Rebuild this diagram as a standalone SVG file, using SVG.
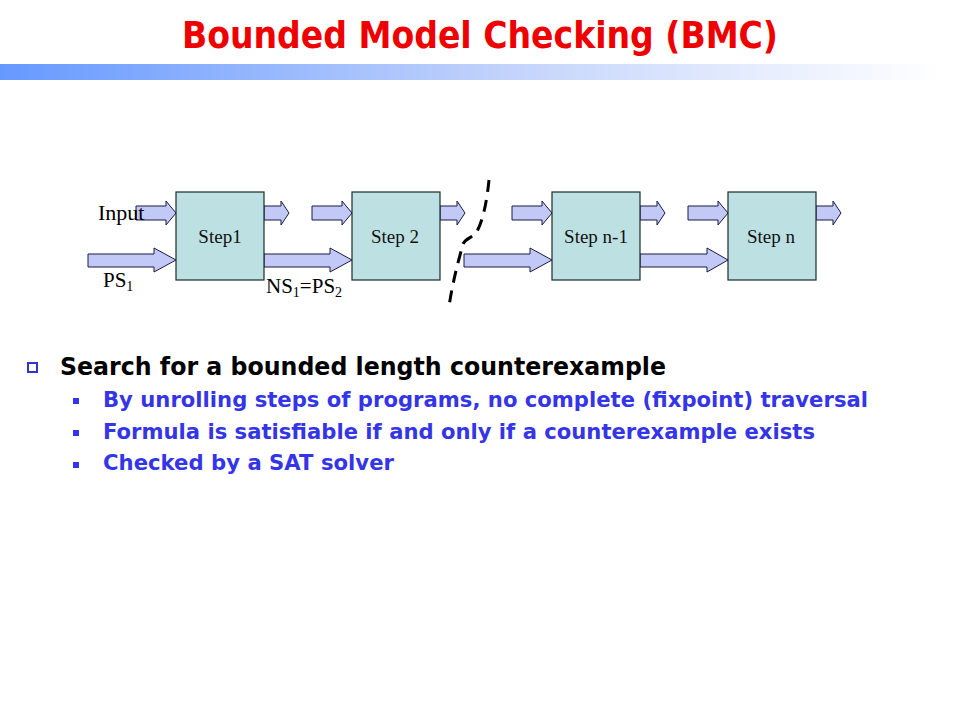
<svg xmlns="http://www.w3.org/2000/svg" width="960" height="720" viewBox="0 0 960 720">
<defs>
<linearGradient id="bar" x1="0" y1="0" x2="1" y2="0">
<stop offset="0" stop-color="#6699ff"/>
<stop offset="0.55" stop-color="#c4d4fb"/>
<stop offset="1" stop-color="#ffffff"/>
</linearGradient>
<style>
.arr{fill:#c3c9f7;stroke:#1a1a40;stroke-width:1}
.box{fill:#bde0e2;stroke:#1a2a2a;stroke-width:1.2}
.lbl{font-family:"Liberation Serif","Times New Roman",serif;fill:#000}
.step{font-family:"Liberation Serif","Times New Roman",serif;font-size:19px;fill:#111;text-anchor:middle}
.sub{font-family:"DejaVu Sans",Verdana,sans-serif;font-weight:bold;font-size:21.5px;fill:#3535e8}
</style>
</defs>
<rect width="960" height="720" fill="#ffffff"/>
<g id="title">
<text x="480" y="48" text-anchor="middle" font-family="DejaVu Sans Condensed, DejaVu Sans, sans-serif" font-weight="bold" font-size="38" fill="#ee0000" textLength="596" lengthAdjust="spacingAndGlyphs">Bounded Model Checking (BMC)</text>
<rect x="0" y="64" width="940" height="16" fill="url(#bar)"/>
</g>
<g id="connectors">
<polygon class="arr" points="136,206 166,206 166,201 176,213 166,225 166,220 136,220"/>
<polygon class="arr" points="264,206 281,206 281,201 289,213 281,225 281,220 264,220"/>
<polygon class="arr" points="312,206 342,206 342,201 352,213 342,225 342,220 312,220"/>
<polygon class="arr" points="440,206 457,206 457,201 465,213 457,225 457,220 440,220"/>
<polygon class="arr" points="512,206 542,206 542,201 552,213 542,225 542,220 512,220"/>
<polygon class="arr" points="640,206 657,206 657,201 665,213 657,225 657,220 640,220"/>
<polygon class="arr" points="688,206 718,206 718,201 728,213 718,225 718,220 688,220"/>
<polygon class="arr" points="816,206 833,206 833,201 841,213 833,225 833,220 816,220"/>
<polygon class="arr" points="88,254 154,254 154,248 176,260 154,272 154,267 88,267"/>
<polygon class="arr" points="264,254 330,254 330,248 352,260 330,272 330,267 264,267"/>
<polygon class="arr" points="464,254 530,254 530,248 552,260 530,272 530,267 464,267"/>
<polygon class="arr" points="640,254 707,254 707,248 728,260 707,272 707,267 640,267"/>
<path d="M489 180 C487 200 483 222 476 233 C472 238 466 238 463 244 C458 262 452 285 449 307" fill="none" stroke="#000" stroke-width="3" stroke-dasharray="12 8"/>
</g>
<g id="step1">
<rect class="box" x="176" y="192" width="88" height="88"/>
<text class="step" x="220" y="243">Step1</text>
</g>
<g id="step2">
<rect class="box" x="352" y="192" width="88" height="88"/>
<text class="step" x="395" y="243">Step 2</text>
</g>
<g id="stepn1">
<rect class="box" x="552" y="192" width="88" height="88"/>
<text class="step" x="596" y="243">Step n-1</text>
</g>
<g id="stepn">
<rect class="box" x="728" y="192" width="88" height="88"/>
<text class="step" x="771" y="243">Step n</text>
</g>
<g id="labels">
<text class="lbl" x="98" y="220" font-size="22">Input</text>
<text class="lbl" x="103" y="287" font-size="21">PS<tspan font-size="14" dy="4">1</tspan></text>
<text class="lbl" x="266" y="293" font-size="21">NS<tspan font-size="14" dy="4">1</tspan><tspan dy="-4">=PS</tspan><tspan font-size="14" dy="4">2</tspan></text>
</g>
<g id="bullets">
<rect x="28" y="363" width="9" height="9" fill="none" stroke="#3333cc" stroke-width="2"/>
<text x="60" y="375" font-family="DejaVu Sans, Verdana, sans-serif" font-weight="bold" font-size="24.5" fill="#000" textLength="606" lengthAdjust="spacingAndGlyphs">Search for a bounded length counterexample</text>
<rect x="73" y="398" width="6" height="6" fill="#3535e8"/>
<text class="sub" x="103" y="407" textLength="765" lengthAdjust="spacingAndGlyphs">By unrolling steps of programs, no complete (fixpoint) traversal</text>
<rect x="73" y="430" width="6" height="6" fill="#3535e8"/>
<text class="sub" x="103" y="439" textLength="712" lengthAdjust="spacingAndGlyphs">Formula is satisfiable if and only if a counterexample exists</text>
<rect x="73" y="462" width="6" height="6" fill="#3535e8"/>
<text class="sub" x="103" y="470" textLength="291" lengthAdjust="spacingAndGlyphs">Checked by a SAT solver</text>
</g>
</svg>
